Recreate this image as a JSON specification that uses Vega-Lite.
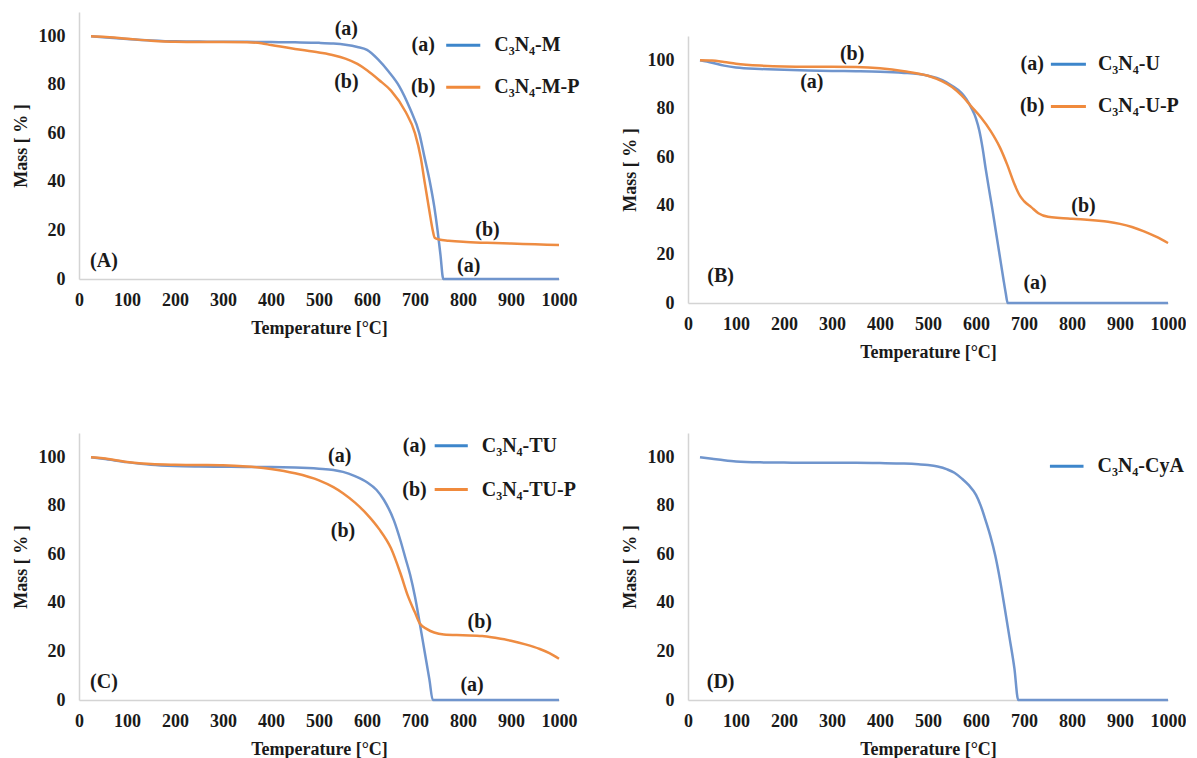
{
"$schema": "https://vega.github.io/schema/vega-lite/v6.json",
"background": "white",
"padding": {"left": 12, "top": 12, "right": 0, "bottom": 0},
"spacing": 72,
"config": {
  "view": {"stroke": null},
  "axis": {"domainColor": "#d4d4d4", "domainWidth": 1.5, "ticks": false, "grid": false,
    "labelFont": "Liberation Serif", "labelFontWeight": "bold", "labelFontSize": 18, "labelColor": "#1a1a1a",
    "titleFont": "Liberation Serif", "titleFontWeight": "bold", "titleFontSize": 18, "titleColor": "#1a1a1a",
    "labelFlush": false, "labelOverlap": false},
  "axisX": {"labelPadding": 12, "titlePadding": 10, "format": "d"},
  "axisY": {"labelPadding": 14, "titlePadding": 8},
  "text": {"font": "Liberation Serif", "fontWeight": "bold", "fontSize": 20, "color": "#1a1a1a", "baseline": "middle"}
},
"datasets": {
  "A": [
    {"s":"a","T":25,"mass":100},{"s":"a","T":50,"mass":99.6},{"s":"a","T":100,"mass":98.9},{"s":"a","T":150,"mass":98.3},{"s":"a","T":200,"mass":97.9},{"s":"a","T":250,"mass":97.8},{"s":"a","T":300,"mass":97.7},{"s":"a","T":350,"mass":97.7},{"s":"a","T":400,"mass":97.6},{"s":"a","T":450,"mass":97.5},{"s":"a","T":500,"mass":97.3},{"s":"a","T":530,"mass":97},{"s":"a","T":555,"mass":96.5},{"s":"a","T":580,"mass":95.6},{"s":"a","T":600,"mass":94.4},{"s":"a","T":623,"mass":90.5},{"s":"a","T":645,"mass":85.5},{"s":"a","T":667,"mass":79.5},{"s":"a","T":690,"mass":70},{"s":"a","T":709,"mass":60},{"s":"a","T":720,"mass":50},{"s":"a","T":731,"mass":40},{"s":"a","T":740,"mass":30},{"s":"a","T":747,"mass":20},{"s":"a","T":753,"mass":10},{"s":"a","T":759,"mass":0},{"s":"a","T":800,"mass":0},{"s":"a","T":900,"mass":0},{"s":"a","T":1000,"mass":0},
    {"s":"b","T":25,"mass":100},{"s":"b","T":50,"mass":99.8},{"s":"b","T":100,"mass":99},{"s":"b","T":150,"mass":98.2},{"s":"b","T":200,"mass":97.7},{"s":"b","T":250,"mass":97.6},{"s":"b","T":300,"mass":97.6},{"s":"b","T":350,"mass":97.5},{"s":"b","T":380,"mass":97.1},{"s":"b","T":400,"mass":96.4},{"s":"b","T":450,"mass":94.8},{"s":"b","T":500,"mass":93.3},{"s":"b","T":530,"mass":92.2},{"s":"b","T":555,"mass":90.8},{"s":"b","T":580,"mass":88.6},{"s":"b","T":600,"mass":86},{"s":"b","T":625,"mass":82},{"s":"b","T":650,"mass":77.6},{"s":"b","T":680,"mass":69},{"s":"b","T":700,"mass":60},{"s":"b","T":712,"mass":50},{"s":"b","T":720,"mass":40},{"s":"b","T":730,"mass":28},{"s":"b","T":737,"mass":20},{"s":"b","T":741,"mass":17},{"s":"b","T":750,"mass":16.3},{"s":"b","T":770,"mass":15.8},{"s":"b","T":800,"mass":15.3},{"s":"b","T":850,"mass":14.9},{"s":"b","T":900,"mass":14.6},{"s":"b","T":950,"mass":14.3},{"s":"b","T":1000,"mass":14}
  ],
  "B": [
    {"s":"a","T":25,"mass":100},{"s":"a","T":50,"mass":99},{"s":"a","T":75,"mass":97.8},{"s":"a","T":100,"mass":97},{"s":"a","T":150,"mass":96.4},{"s":"a","T":200,"mass":96.1},{"s":"a","T":250,"mass":95.8},{"s":"a","T":300,"mass":95.6},{"s":"a","T":350,"mass":95.5},{"s":"a","T":400,"mass":95.3},{"s":"a","T":450,"mass":94.8},{"s":"a","T":480,"mass":94.3},{"s":"a","T":500,"mass":93.6},{"s":"a","T":530,"mass":91.8},{"s":"a","T":550,"mass":89.5},{"s":"a","T":570,"mass":86.5},{"s":"a","T":580,"mass":84},{"s":"a","T":590,"mass":80.5},{"s":"a","T":600,"mass":76},{"s":"a","T":607,"mass":71},{"s":"a","T":614,"mass":63.5},{"s":"a","T":620,"mass":55.5},{"s":"a","T":627,"mass":47},{"s":"a","T":633,"mass":40},{"s":"a","T":641,"mass":30},{"s":"a","T":649,"mass":20},{"s":"a","T":657,"mass":10},{"s":"a","T":662,"mass":4},{"s":"a","T":666,"mass":0},{"s":"a","T":700,"mass":0},{"s":"a","T":800,"mass":0},{"s":"a","T":900,"mass":0},{"s":"a","T":1000,"mass":0},
    {"s":"b","T":25,"mass":100},{"s":"b","T":50,"mass":99.9},{"s":"b","T":75,"mass":99.3},{"s":"b","T":100,"mass":98.6},{"s":"b","T":150,"mass":97.8},{"s":"b","T":200,"mass":97.4},{"s":"b","T":250,"mass":97.3},{"s":"b","T":300,"mass":97.3},{"s":"b","T":350,"mass":97.2},{"s":"b","T":400,"mass":96.7},{"s":"b","T":450,"mass":95.5},{"s":"b","T":500,"mass":93.6},{"s":"b","T":530,"mass":91.3},{"s":"b","T":550,"mass":89},{"s":"b","T":570,"mass":85.5},{"s":"b","T":590,"mass":81},{"s":"b","T":610,"mass":76.5},{"s":"b","T":630,"mass":71},{"s":"b","T":650,"mass":64},{"s":"b","T":665,"mass":57},{"s":"b","T":680,"mass":49},{"s":"b","T":692,"mass":44},{"s":"b","T":700,"mass":42},{"s":"b","T":715,"mass":39.5},{"s":"b","T":730,"mass":37},{"s":"b","T":750,"mass":35.5},{"s":"b","T":775,"mass":35},{"s":"b","T":800,"mass":34.7},{"s":"b","T":825,"mass":34.4},{"s":"b","T":850,"mass":34},{"s":"b","T":875,"mass":33.5},{"s":"b","T":900,"mass":32.6},{"s":"b","T":925,"mass":31.3},{"s":"b","T":950,"mass":29.5},{"s":"b","T":975,"mass":27.3},{"s":"b","T":1000,"mass":24.7}
  ],
  "C": [
    {"s":"a","T":25,"mass":100},{"s":"a","T":50,"mass":99.4},{"s":"a","T":100,"mass":98},{"s":"a","T":150,"mass":96.9},{"s":"a","T":200,"mass":96.4},{"s":"a","T":250,"mass":96.2},{"s":"a","T":300,"mass":96.1},{"s":"a","T":350,"mass":96},{"s":"a","T":400,"mass":96},{"s":"a","T":450,"mass":95.8},{"s":"a","T":500,"mass":95.3},{"s":"a","T":530,"mass":94.8},{"s":"a","T":550,"mass":94},{"s":"a","T":575,"mass":92.2},{"s":"a","T":600,"mass":89.7},{"s":"a","T":620,"mass":86.5},{"s":"a","T":635,"mass":82.5},{"s":"a","T":656,"mass":74},{"s":"a","T":670,"mass":65.5},{"s":"a","T":680,"mass":58.5},{"s":"a","T":690,"mass":51.5},{"s":"a","T":700,"mass":42.5},{"s":"a","T":710,"mass":31.5},{"s":"a","T":720,"mass":20},{"s":"a","T":730,"mass":8.5},{"s":"a","T":737,"mass":0},{"s":"a","T":800,"mass":0},{"s":"a","T":900,"mass":0},{"s":"a","T":1000,"mass":0},
    {"s":"b","T":25,"mass":100},{"s":"b","T":50,"mass":99.6},{"s":"b","T":100,"mass":98.1},{"s":"b","T":150,"mass":97.2},{"s":"b","T":200,"mass":96.9},{"s":"b","T":250,"mass":96.8},{"s":"b","T":300,"mass":96.7},{"s":"b","T":350,"mass":96.2},{"s":"b","T":400,"mass":95.2},{"s":"b","T":450,"mass":93.4},{"s":"b","T":500,"mass":90.5},{"s":"b","T":530,"mass":87.7},{"s":"b","T":550,"mass":85.2},{"s":"b","T":575,"mass":81.3},{"s":"b","T":600,"mass":76.5},{"s":"b","T":625,"mass":70.5},{"s":"b","T":650,"mass":62.5},{"s":"b","T":670,"mass":52},{"s":"b","T":685,"mass":43},{"s":"b","T":700,"mass":36},{"s":"b","T":710,"mass":31.5},{"s":"b","T":725,"mass":29.2},{"s":"b","T":740,"mass":27.8},{"s":"b","T":760,"mass":27},{"s":"b","T":800,"mass":26.7},{"s":"b","T":840,"mass":26.4},{"s":"b","T":870,"mass":25.5},{"s":"b","T":900,"mass":24.4},{"s":"b","T":930,"mass":22.9},{"s":"b","T":960,"mass":21},{"s":"b","T":980,"mass":19.3},{"s":"b","T":1000,"mass":17}
  ],
  "D": [
    {"s":"a","T":25,"mass":100},{"s":"a","T":50,"mass":99.4},{"s":"a","T":75,"mass":98.8},{"s":"a","T":100,"mass":98.3},{"s":"a","T":150,"mass":97.9},{"s":"a","T":200,"mass":97.8},{"s":"a","T":250,"mass":97.7},{"s":"a","T":300,"mass":97.7},{"s":"a","T":350,"mass":97.7},{"s":"a","T":400,"mass":97.6},{"s":"a","T":450,"mass":97.4},{"s":"a","T":480,"mass":97.1},{"s":"a","T":500,"mass":96.8},{"s":"a","T":520,"mass":96.2},{"s":"a","T":540,"mass":95},{"s":"a","T":555,"mass":93.6},{"s":"a","T":570,"mass":91.3},{"s":"a","T":585,"mass":88.5},{"s":"a","T":600,"mass":84.5},{"s":"a","T":610,"mass":80},{"s":"a","T":620,"mass":74},{"s":"a","T":630,"mass":67.5},{"s":"a","T":640,"mass":59.6},{"s":"a","T":650,"mass":49.5},{"s":"a","T":660,"mass":37.7},{"s":"a","T":670,"mass":25.5},{"s":"a","T":680,"mass":13},{"s":"a","T":688,"mass":0},{"s":"a","T":750,"mass":0},{"s":"a","T":800,"mass":0},{"s":"a","T":900,"mass":0},{"s":"a","T":1000,"mass":0}
  ],
  "ann": [
    {"p":"A","T":557,"mass":103,"t":"(a)"},{"p":"A","T":557,"mass":81,"t":"(b)"},{"p":"A","T":851,"mass":20.3,"t":"(b)"},{"p":"A","T":812,"mass":5.2,"t":"(a)"},{"p":"A","T":52,"mass":7.3,"t":"(A)"},{"p":"A","T":717,"mass":96.3,"t":"(a)"},{"p":"A","T":717,"mass":79,"t":"(b)"},
    {"p":"B","T":342,"mass":102.4,"t":"(b)"},{"p":"B","T":258,"mass":91,"t":"(a)"},{"p":"B","T":824,"mass":40,"t":"(b)"},{"p":"B","T":723,"mass":8.2,"t":"(a)"},{"p":"B","T":68,"mass":11,"t":"(B)"},{"p":"B","T":717,"mass":98.4,"t":"(a)"},{"p":"B","T":717,"mass":81,"t":"(b)"},
    {"p":"C","T":543,"mass":100.7,"t":"(a)"},{"p":"C","T":550,"mass":69.5,"t":"(b)"},{"p":"C","T":835,"mass":32.2,"t":"(b)"},{"p":"C","T":819,"mass":6.2,"t":"(a)"},{"p":"C","T":52,"mass":7.5,"t":"(C)"},{"p":"C","T":699,"mass":104.7,"t":"(a)"},{"p":"C","T":699,"mass":86.7,"t":"(b)"},
    {"p":"D","T":68,"mass":7.5,"t":"(D)"}
  ],
  "leg": [
    {"p":"A","s":"a","T":765,"T2":836,"mass":96.3},{"p":"A","s":"b","T":765,"T2":836,"mass":79},
    {"p":"B","s":"a","T":756,"T2":829,"mass":98.4},{"p":"B","s":"b","T":756,"T2":829,"mass":81},
    {"p":"C","s":"a","T":741,"T2":810,"mass":104.7},{"p":"C","s":"b","T":741,"T2":810,"mass":86.7},
    {"p":"D","s":"a","T":754,"T2":824,"mass":96.3}
  ],
  "names": [
    {"p":"A","T":865,"mass":96.3,"t":"C₃N₄-M"},{"p":"A","T":865,"mass":79,"t":"C₃N₄-M-P"},
    {"p":"B","T":854,"mass":98.4,"t":"C₃N₄-U"},{"p":"B","T":854,"mass":81,"t":"C₃N₄-U-P"},
    {"p":"C","T":839,"mass":104.7,"t":"C₃N₄-TU"},{"p":"C","T":839,"mass":86.7,"t":"C₃N₄-TU-P"},
    {"p":"D","T":853,"mass":96.3,"t":"C₃N₄-CyA"}
  ]
},
"vconcat": [
  {"hconcat": [
    {"width": 480, "height": 267,
     "encoding": {
       "x": {"field": "T", "type": "quantitative", "scale": {"domain": [0, 1000]}, "axis": {"values": [0,100,200,300,400,500,600,700,800,900,1000], "title": "Temperature [°C]"}},
       "y": {"field": "mass", "type": "quantitative", "scale": {"domain": [0, 110]}, "axis": {"values": [0,20,40,60,80,100], "title": "Mass [ % ]"}}
     },
     "layer": [
       {"data": {"name": "A"}, "mark": {"type": "line", "strokeWidth": 2.5, "interpolate": "monotone"}, "encoding": {"color": {"field": "s", "type": "nominal", "scale": {"domain": ["a","b"], "range": ["#7095cd","#ee8c42"]}, "legend": null}}},
       {"data": {"name": "leg"}, "transform": [{"filter": "datum.p === 'A'"}], "mark": {"type": "rule", "strokeWidth": 3}, "encoding": {"x2": {"field": "T2"}, "stroke": {"field": "s", "type": "nominal", "scale": {"domain": ["a","b"], "range": ["#3d86cb","#f08a3c"]}, "legend": null}}},
       {"data": {"name": "ann"}, "transform": [{"filter": "datum.p === 'A'"}], "mark": {"type": "text", "align": "center"}, "encoding": {"text": {"field": "t"}}},
       {"data": {"name": "names"}, "transform": [{"filter": "datum.p === 'A'"}], "mark": {"type": "text", "align": "left"}, "encoding": {"text": {"field": "t"}}}
     ]},
    {"vconcat": [
      {"width": 480, "height": 24, "data": {"values": []}, "mark": {"type": "point", "opacity": 0}},
      {"width": 480, "height": 267,
       "encoding": {
         "x": {"field": "T", "type": "quantitative", "scale": {"domain": [0, 1000]}, "axis": {"values": [0,100,200,300,400,500,600,700,800,900,1000], "title": "Temperature [°C]"}},
         "y": {"field": "mass", "type": "quantitative", "scale": {"domain": [0, 110]}, "axis": {"values": [0,20,40,60,80,100], "title": "Mass [ % ]"}}
       },
       "layer": [
         {"data": {"name": "B"}, "mark": {"type": "line", "strokeWidth": 2.5, "interpolate": "monotone"}, "encoding": {"color": {"field": "s", "type": "nominal", "scale": {"domain": ["a","b"], "range": ["#7095cd","#ee8c42"]}, "legend": null}}},
         {"data": {"name": "leg"}, "transform": [{"filter": "datum.p === 'B'"}], "mark": {"type": "rule", "strokeWidth": 3}, "encoding": {"x2": {"field": "T2"}, "stroke": {"field": "s", "type": "nominal", "scale": {"domain": ["a","b"], "range": ["#3d86cb","#f08a3c"]}, "legend": null}}},
         {"data": {"name": "ann"}, "transform": [{"filter": "datum.p === 'B'"}], "mark": {"type": "text", "align": "center"}, "encoding": {"text": {"field": "t"}}},
         {"data": {"name": "names"}, "transform": [{"filter": "datum.p === 'B'"}], "mark": {"type": "text", "align": "left"}, "encoding": {"text": {"field": "t"}}}
       ]}
    ], "spacing": 0}
  ], "spacing": 41},
  {"hconcat": [
    {"width": 480, "height": 267,
     "encoding": {
       "x": {"field": "T", "type": "quantitative", "scale": {"domain": [0, 1000]}, "axis": {"values": [0,100,200,300,400,500,600,700,800,900,1000], "title": "Temperature [°C]"}},
       "y": {"field": "mass", "type": "quantitative", "scale": {"domain": [0, 110]}, "axis": {"values": [0,20,40,60,80,100], "title": "Mass [ % ]"}}
     },
     "layer": [
       {"data": {"name": "C"}, "mark": {"type": "line", "strokeWidth": 2.5, "interpolate": "monotone"}, "encoding": {"color": {"field": "s", "type": "nominal", "scale": {"domain": ["a","b"], "range": ["#7095cd","#ee8c42"]}, "legend": null}}},
       {"data": {"name": "leg"}, "transform": [{"filter": "datum.p === 'C'"}], "mark": {"type": "rule", "strokeWidth": 3}, "encoding": {"x2": {"field": "T2"}, "stroke": {"field": "s", "type": "nominal", "scale": {"domain": ["a","b"], "range": ["#3d86cb","#f08a3c"]}, "legend": null}}},
       {"data": {"name": "ann"}, "transform": [{"filter": "datum.p === 'C'"}], "mark": {"type": "text", "align": "center"}, "encoding": {"text": {"field": "t"}}},
       {"data": {"name": "names"}, "transform": [{"filter": "datum.p === 'C'"}], "mark": {"type": "text", "align": "left"}, "encoding": {"text": {"field": "t"}}}
     ]},
    {"width": 480, "height": 267,
     "encoding": {
       "x": {"field": "T", "type": "quantitative", "scale": {"domain": [0, 1000]}, "axis": {"values": [0,100,200,300,400,500,600,700,800,900,1000], "title": "Temperature [°C]"}},
       "y": {"field": "mass", "type": "quantitative", "scale": {"domain": [0, 110]}, "axis": {"values": [0,20,40,60,80,100], "title": "Mass [ % ]"}}
     },
     "layer": [
       {"data": {"name": "D"}, "mark": {"type": "line", "strokeWidth": 2.5, "interpolate": "monotone"}, "encoding": {"color": {"field": "s", "type": "nominal", "scale": {"domain": ["a","b"], "range": ["#7095cd","#ee8c42"]}, "legend": null}}},
       {"data": {"name": "leg"}, "transform": [{"filter": "datum.p === 'D'"}], "mark": {"type": "rule", "strokeWidth": 3}, "encoding": {"x2": {"field": "T2"}, "stroke": {"field": "s", "type": "nominal", "scale": {"domain": ["a","b"], "range": ["#3d86cb","#f08a3c"]}, "legend": null}}},
       {"data": {"name": "ann"}, "transform": [{"filter": "datum.p === 'D'"}], "mark": {"type": "text", "align": "center"}, "encoding": {"text": {"field": "t"}}},
       {"data": {"name": "names"}, "transform": [{"filter": "datum.p === 'D'"}], "mark": {"type": "text", "align": "left"}, "encoding": {"text": {"field": "t"}}}
     ]}
  ], "spacing": 44}
]
}
